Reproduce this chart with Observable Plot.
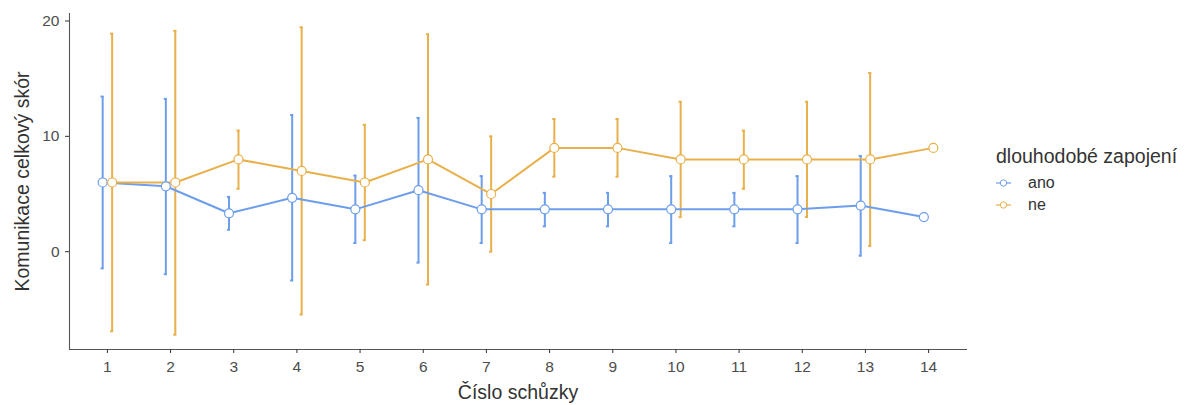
<!DOCTYPE html>
<html>
<head>
<meta charset="utf-8">
<script src="https://cdn.jsdelivr.net/npm/d3@7"></script>
<script src="https://cdn.jsdelivr.net/npm/@observablehq/plot@0.6"></script>
<style>
  body { margin: 0; background: #fff; font-family: "Liberation Sans", Arial, sans-serif; }
  #chart { position: relative; width: 1191px; height: 405px; }
  #legend { position: absolute; left: 996px; top: 146px; color: #333; }
</style>
</head>
<body>
<div id="chart"></div>
<script>
// Meeting number (x axis)
const sessions = [1, 2, 3, 4, 5, 6, 7, 8, 9, 10, 11, 12, 13, 14];
const yTicks = [0, 10, 20];

// Long-term involvement groups
const groups = ["ano", "ne"];
const colors = ["#6d9eeb", "#e8b04b"];

// "ano" group: mean score and error-bar bounds (last meeting has no bar)
const anoMean = [6, 5.67, 3.33, 4.67, 3.67, 5.33, 3.67, 3.67, 3.67, 3.67, 3.67, 3.67, 4, 3];
const anoLow  = [-1.45, -1.95, 1.9, -2.5, 0.75, -0.95, 0.75, 2.2, 2.2, 0.75, 2.2, 0.75, -0.35, null];
const anoHigh = [13.45, 13.25, 4.75, 11.85, 6.6, 11.6, 6.55, 5.1, 5.1, 6.55, 5.1, 6.55, 8.3, null];

// "ne" group
const neMean = [6, 6, 8, 7, 6, 8, 5, 9, 9, 8, 8, 8, 8, 9];
const neLow  = [-6.9, -7.2, 5.45, -5.45, 1, -2.85, 0, 6.5, 6.5, 3, 5.45, 3, 0.5, null];
const neHigh = [18.9, 19.15, 10.5, 19.45, 11, 18.85, 10, 11.5, 11.5, 13, 10.5, 13, 15.5, null];

const series = {
  ano: {mean: anoMean, low: anoLow, high: anoHigh},
  ne:  {mean: neMean,  low: neLow,  high: neHigh}
};

// side-by-side dodge of the two groups around each meeting
const dodge = {ano: -0.075, ne: 0.075};
const capHalf = 0.025;

const rows = [];
for (const g of groups) {
  sessions.forEach((s, i) => {
    rows.push({
      group: g,
      x: s + dodge[g],
      mean: series[g].mean[i],
      low: series[g].low[i],
      high: series[g].high[i]
    });
  });
}
const bars = rows.filter(d => d.low != null);

const titleSize = 19.5;

const plot = Plot.plot({
  width: 1191,
  height: 405,
  marginLeft: 69,
  marginRight: 225,
  marginTop: 13,
  marginBottom: 56,
  style: {fontFamily: '"Liberation Sans", Arial, sans-serif', fontSize: "15.5px", color: "#4d4d4d", background: "#fff"},
  x: {domain: [0.4, 14.6]},
  y: {domain: [-8.48, 20.65]},
  color: {domain: groups, range: colors},
  marks: [
    Plot.frame({anchor: "left", stroke: "#555", strokeWidth: 1.1}),
    Plot.frame({anchor: "bottom", stroke: "#555", strokeWidth: 1.1}),
    Plot.axisX({ticks: sessions, tickFormat: d => String(d), tickSize: 4, tickPadding: 7, label: null, stroke: "#333"}),
    Plot.axisY({ticks: yTicks, tickSize: 4, tickPadding: 6, label: null, stroke: "#333"}),
    // error bars with short caps
    Plot.ruleX(bars, {x: "x", y1: "low", y2: "high", stroke: "group", strokeWidth: 2}),
    Plot.ruleY(bars, {y: "low", x1: d => d.x - capHalf, x2: d => d.x + capHalf, stroke: "group", strokeWidth: 2}),
    Plot.ruleY(bars, {y: "high", x1: d => d.x - capHalf, x2: d => d.x + capHalf, stroke: "group", strokeWidth: 2}),
    // group means
    Plot.line(rows, {x: "x", y: "mean", stroke: "group", z: "group", strokeWidth: 2}),
    Plot.dot(rows, {x: "x", y: "mean", stroke: "group", fill: "white", r: 4.5, strokeWidth: 1.2}),
    // axis titles
    Plot.text(["Číslo schůzky"], {text: d => d, frameAnchor: "bottom", dy: 49, textAnchor: "middle", fontSize: titleSize, fill: "#333"}),
    Plot.text(["Komunikace celkový skór"], {text: d => d, frameAnchor: "left", dx: -47, textAnchor: "middle", rotate: -90, fontSize: titleSize, fill: "#333"})
  ]
});

const chart = document.getElementById("chart");
chart.appendChild(plot);

// legend to the right of the panel
const legend = d3.select(chart).append("div").attr("id", "legend");
legend.append("div")
  .style("font-size", titleSize + "px")
  .style("line-height", "20px")
  .style("height", "20px")
  .style("margin-bottom", "6px")
  .text("dlouhodobé zapojení");
groups.forEach((g, i) => {
  const row = legend.append("div")
    .style("display", "flex")
    .style("align-items", "center")
    .style("height", "22px");
  const svg = row.append("svg").attr("width", 15).attr("height", 22);
  svg.append("line").attr("x1", 0).attr("x2", 15).attr("y1", 11).attr("y2", 11)
    .attr("stroke", colors[i]).attr("stroke-width", 1.2);
  svg.append("circle").attr("cx", 7.5).attr("cy", 11).attr("r", 3.2)
    .attr("fill", "white").attr("stroke", colors[i]).attr("stroke-width", 1);
  row.append("span")
    .style("margin-left", "17px")
    .style("font-size", "16px")
    .style("line-height", "22px")
    .text(g);
});
</script>
</body>
</html>
